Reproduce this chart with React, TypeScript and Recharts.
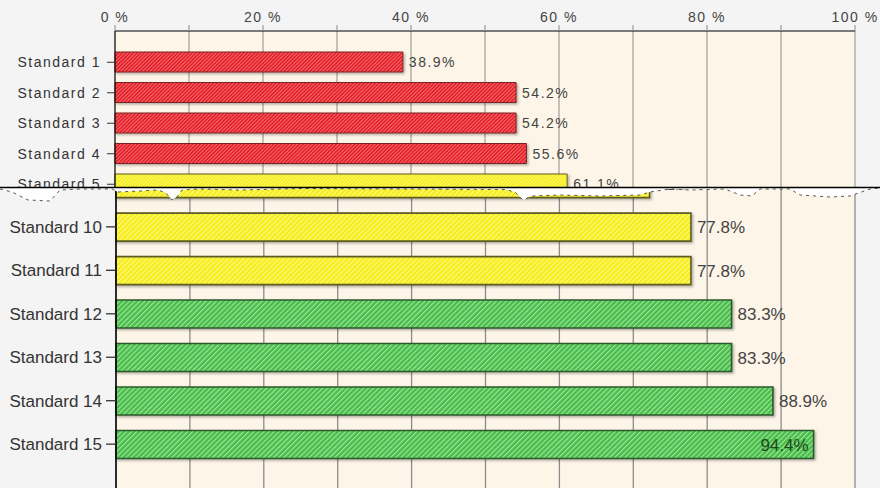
import { Bar, BarChart, CartesianGrid, Cell, LabelList, XAxis, YAxis } from "recharts";

const standards = [
  "Standard 1", "Standard 2", "Standard 3", "Standard 4", "Standard 5",
  "Standard 6", "Standard 7", "Standard 8", "Standard 9", "Standard 10",
  "Standard 11", "Standard 12", "Standard 13", "Standard 14", "Standard 15",
];
const scores = [38.9, 54.2, 54.2, 55.6, 61.1, 66.7, 66.7, 72.2, 72.2, 77.8, 77.8, 83.3, 83.3, 88.9, 94.4];
const percentTicks = [0, 10, 20, 30, 40, 50, 60, 70, 80, 90, 100];
const tickLabels = ["0 %", "", "20 %", "", "40 %", "", "60 %", "", "80 %", "", "100 %"];

// torn-paper edge between the two views (decoration only)
const tearEdge: [number, number][] = [
  [0, 189], [12, 192], [28, 200], [50, 201], [60, 190], [80, 189], [112, 189], [118, 192],
  [140, 191], [158, 190], [166, 193], [172, 200], [178, 196], [182, 190], [200, 189],
  [240, 190], [300, 188.5], [400, 189], [505, 189.5], [515, 192], [523, 200], [532, 196],
  [560, 195], [600, 196], [640, 195], [650, 192], [670, 189], [690, 190], [725, 189],
  [740, 195], [752, 196], [760, 189], [790, 189], [800, 195], [830, 197], [850, 196],
  [870, 189], [880, 188],
];

const data = standards.map((name, i) => ({ name, score: scores[i] }));

const colors = {
  red: { base: "#e5212a", stripe: "#f27a7e", edge: "#7c2323" },
  yellow: { base: "#f6ee1c", stripe: "#fbf88a", edge: "#5f5c22" },
  green: { base: "#48bf48", stripe: "#a6e3a6", edge: "#2c5a2c" },
};

function band(v: number) {
  if (v < 60) return "red";
  if (v < 80) return "yellow";
  return "green";
}

function Patterns({ prefix, size }: { prefix: string; size: number }) {
  return (
    <defs>
      {Object.entries(colors).map(([k, c]) => (
        <pattern
          key={k}
          id={`${prefix}-${k}`}
          width={size}
          height={size}
          patternUnits="userSpaceOnUse"
          patternTransform="rotate(45)"
        >
          <rect width={size} height={size} fill={c.base} />
          <line x1={0} y1={0} x2={0} y2={size} stroke={c.stripe} strokeWidth={size * 0.6} />
        </pattern>
      ))}
      <filter id={`${prefix}-shadow`} x="-5%" y="-20%" width="110%" height="150%">
        <feDropShadow dx={1.5} dy={1.5} stdDeviation={0.8} floodColor="#000" floodOpacity={0.3} />
      </filter>
    </defs>
  );
}

function makeLabel(fontSize: number) {
  return (props: any) => {
    const { x, y, width, height, value } = props;
    const inside = value > 90;
    return (
      <text
        x={inside ? x + width - 5 : x + width + 6}
        y={y + height / 2}
        dy="0.36em"
        textAnchor={inside ? "end" : "start"}
        fontSize={fontSize}
        fill={inside ? "#1d4a1d" : "#444"}
      >
        {`${value}%`}
      </text>
    );
  };
}

const TOP_ROW = 30.5;
const BOTTOM_ROW = 43.46;

function TopView() {
  const height = 31 + 16 + 15 * TOP_ROW + 8;
  return (
    <div style={{ position: "absolute", left: 0, top: 0, width: 880, height: 187, overflow: "hidden", letterSpacing: "1.5px" }}>
      <BarChart
        width={880}
        height={height}
        data={data}
        layout="vertical"
        margin={{ top: 0, right: 25, bottom: 0, left: 0 }}
      >
        <Patterns prefix="t" size={2.6} />
        <CartesianGrid horizontal={false} stroke="#8c8c8c" fill="#fdf5e8" />
        <XAxis
          type="number"
          orientation="top"
          domain={[0, 100]}
          ticks={percentTicks}
          tickFormatter={(v, i) => tickLabels[i]}
          height={31}
          tickSize={6}
          tickMargin={3}
          axisLine={{ stroke: "#000" }}
          tickLine={{ stroke: "#8c8c8c" }}
          tick={{ fontSize: 14, fill: "#444" }}
          interval={0}
        />
        <YAxis
          type="category"
          dataKey="name"
          width={115}
          interval={0}
          tickSize={8}
          tickMargin={6}
          padding={{ top: 16, bottom: 8 }}
          axisLine={{ stroke: "#000" }}
          tickLine={{ stroke: "#333" }}
          tick={{ fontSize: 14, fill: "#333" }}
        />
        <Bar dataKey="score" barSize={20} isAnimationActive={false} strokeWidth={1}>
          {data.map((d) => (
            <Cell
              key={d.name}
              fill={`url(#t-${band(d.score)})`}
              stroke={colors[band(d.score)].edge}
              filter="url(#t-shadow)"
            />
          ))}
          <LabelList dataKey="score" content={makeLabel(14)} />
        </Bar>
      </BarChart>
    </div>
  );
}

function BottomView() {
  const padBottom = 60;
  const height = 15 * BOTTOM_ROW + padBottom;
  return (
    <div style={{ position: "absolute", left: 0, top: 187, width: 880, height: 301, overflow: "hidden" }}>
      <div style={{ position: "absolute", left: 0, top: -373.2 }}>
        <BarChart
          width={880}
          height={height}
          data={data}
          layout="vertical"
          margin={{ top: 0, right: 25, bottom: 0, left: 0 }}
        >
          <Patterns prefix="b" size={3.6} />
          <CartesianGrid horizontal={false} stroke="#8c8c8c" strokeWidth={1.3} fill="#fdf5e8" />
          <XAxis type="number" domain={[0, 100]} ticks={percentTicks} hide />
          <YAxis
            type="category"
            dataKey="name"
            width={116}
            interval={0}
            tickSize={10}
            tickMargin={4}
            padding={{ top: 0, bottom: padBottom }}
            axisLine={{ stroke: "#000", strokeWidth: 1.5 }}
            tickLine={{ stroke: "#333", strokeWidth: 1.3 }}
            tick={{ fontSize: 17, fill: "#333" }}
          />
          <Bar dataKey="score" barSize={28} isAnimationActive={false} strokeWidth={1.6}>
            {data.map((d) => (
              <Cell
                key={d.name}
                fill={`url(#b-${band(d.score)})`}
                stroke={colors[band(d.score)].edge}
                filter="url(#b-shadow)"
              />
            ))}
            <LabelList dataKey="score" content={makeLabel(17)} />
          </Bar>
        </BarChart>
      </div>
    </div>
  );
}

function Tear() {
  const pts = [[880, 187], [0, 187], ...tearEdge].map((p) => p.join(",")).join(" ");
  const edge = tearEdge.map((p) => p.join(",")).join(" ");
  return (
    <svg width={880} height={488} style={{ position: "absolute", left: 0, top: 0, pointerEvents: "none" }}>
      <polygon points={pts} fill="#fff" />
      <polyline points={edge} fill="none" stroke="#444" strokeWidth={0.9} strokeDasharray="3 4" />
      <line x1={0} x2={880} y1={187.5} y2={187.5} stroke="#000" strokeWidth={1.6} />
    </svg>
  );
}

export default function App() {
  return (
    <div
      style={{
        position: "absolute",
        left: 0,
        top: 0,
        width: 880,
        height: 488,
        overflow: "hidden",
        background: "#f4f4f4",
        fontFamily: "'Liberation Sans', Arial, sans-serif",
      }}
    >
      <BottomView />
      <TopView />
      <Tear />
    </div>
  );
}
